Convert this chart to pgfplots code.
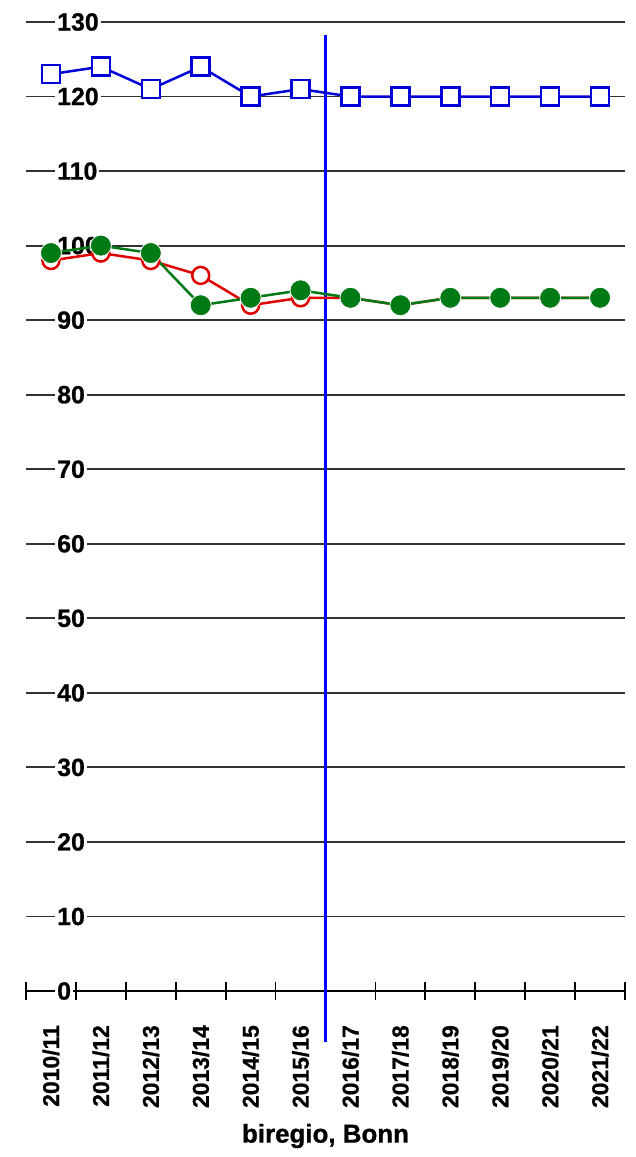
\documentclass[border=0pt]{standalone}
\usepackage{fontspec}
\setmainfont{Liberation Sans}[BoldFeatures={FakeBold=0.8}]
\usepackage{pgfplots}
\pgfplotsset{compat=1.18}
\definecolor{sblue}{RGB}{0,0,215}
\definecolor{vblue}{RGB}{0,0,255}
\definecolor{sred}{RGB}{225,0,0}
\definecolor{sgreen}{RGB}{0,122,20}
\definecolor{sgrid}{RGB}{50,50,50}
\begin{document}
\begin{tikzpicture}
\begin{axis}[
  name=ax,
  set layers,
  scale only axis,
  width=599bp, height=969bp,
  xmin=-0.5, xmax=11.5, ymin=0, ymax=130,
  clip=false,
  axis x line*=bottom, axis y line*=left,
  y axis line style={draw=none},
  x axis line style={line width=1.8bp, black, -},
  xtick={-0.5,0.5,...,11.5},
  x tick label as interval,
  xticklabels={2010/11,2011/12,2012/13,2013/14,2014/15,2015/16,2016/17,2017/18,2018/19,2019/20,2020/21,2021/22},
  xtick style={line width=1.8bp, black},
  major tick length=18bp,
  tick align=center,
  ytick={0,10,...,130},
  ytick style={draw=none},
  ymajorgrids,
  grid style={sgrid, line width=1.8bp},
  xticklabel style={rotate=90, anchor=east, font=\fontsize{23}{23}\selectfont\bfseries, inner sep=0pt, xshift=-25bp},
  yticklabel style={anchor=west, xshift=38bp, fill=white, inner sep=2bp, font=\fontsize{25}{25}\selectfont\bfseries},
  xlabel={biregio, Bonn},
  xlabel style={font=\fontsize{26}{26}\selectfont\bfseries, at={(rel axis cs:0.5,0)}, anchor=center, yshift=-145bp},
  /pgf/number format/assume math mode=true,
]
\addplot[draw=vblue, line width=2.2bp] coordinates {(5.5,128.3) (5.5,-6.85)};
\addplot[sblue, line width=2.5bp, mark=square*, mark size=9bp, mark options={fill=white, line width=2.5bp}] coordinates {
(0,123) (1,124) (2,121) (3,124) (4,120) (5,121) (6,120) (7,120) (8,120) (9,120) (10,120) (11,120)};
\addplot[sred, line width=2.5bp, mark=*, mark size=8.5bp, mark options={fill=white, draw=sred, line width=2.5bp}] coordinates {
(0,98) (1,99) (2,98) (3,96) (4,92) (5,93) (6,93) (7,92) (8,93) (9,93) (10,93) (11,93)};
\addplot[sgreen, line width=2.5bp, mark=*, mark size=10.5bp, mark options={fill=sgreen, draw=white, line width=0.8bp}] coordinates {
(0,99) (1,100) (2,99) (3,92) (4,93) (5,94) (6,93) (7,92) (8,93) (9,93) (10,93) (11,93)};
\end{axis}
\pgfresetboundingbox
\path[use as bounding box] ([shift={(-26bp,-166bp)}]ax.south west) rectangle ([shift={(11bp,22bp)}]ax.north east);
\end{tikzpicture}
\end{document}
